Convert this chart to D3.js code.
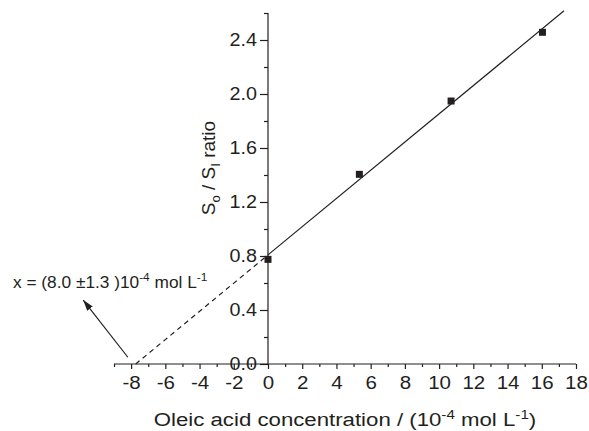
<!DOCTYPE html>
<html><head><meta charset="utf-8">
<script src="https://cdn.jsdelivr.net/npm/d3@7"></script>
<style>
html,body{margin:0;padding:0;background:#fff;}
svg{display:block;font-family:"Liberation Sans",Arial,sans-serif;}
</style></head>
<body>
<svg id="c" width="589" height="431"></svg>
<script>
// Data
const concentration = [0, 5.34, 10.7, 16.04];
const ratio = [0.775, 1.405, 1.948, 2.457];
const xMajorTicks = [-8,-6,-4,-2,0,2,4,6,8,10,12,14,16,18];
const xMinorTicks = [-9,-7,-5,-3,-1,1,3,5,7,9,11,13,15,17];
const yMajorTicks = [0.0,0.4,0.8,1.2,1.6,2.0,2.4];
const yMinorTicks = [0.2,0.6,1.0,1.4,1.8,2.2,2.6];
const fitEndX = 17.3;
const annotationText = ["x = (8.0 \u00B11.3 )10", "-4", " mol L", "-1"];
const arrowTail = [-8.19, 0.05];
const arrowHead = [-10.8, 0.474];
const annotationPos = [-14.9, 0.563];

const svg = d3.select("#c");
const ink = "#231f20";
const x = d3.scaleLinear().domain([-9, 18]).range([114, 576]);
const y = d3.scaleLinear().domain([0, 2.6]).range([364, 13]);

// regression
const n = concentration.length;
const mx = d3.mean(concentration), my = d3.mean(ratio);
let sxy = 0, sxx = 0;
for (let i = 0; i < n; i++) { sxy += (concentration[i]-mx)*(ratio[i]-my); sxx += (concentration[i]-mx)**2; }
const slope = sxy/sxx, intercept = my - slope*mx;
const xInt = -intercept/slope;

const hy = v => String(v).replace("\u2212", "-");

// axes
const xAxisMajor = d3.axisBottom(x).tickValues(xMajorTicks).tickSize(5).tickPadding(7).tickFormat(d => hy(d3.format("d")(d)));
const xAxisMinor = d3.axisBottom(x).tickValues(xMinorTicks).tickSize(3).tickFormat("");
const gx = svg.append("g").attr("transform", `translate(0,${y(0)})`).call(xAxisMajor);
const gx2 = svg.append("g").attr("transform", `translate(0,${y(0)})`).call(xAxisMinor);
gx2.select(".domain").remove();
gx.select(".domain").attr("d", `M${x(-9)},0H${x(18)}`);
gx.selectAll(".tick text").attr("fill", ink).style("font-size", "19px").attr("transform", "scale(1.08,1)");

const yAxisMajor = d3.axisLeft(y).tickValues(yMajorTicks).tickSize(8).tickPadding(3).tickFormat(d3.format(".1f"));
const yAxisMinor = d3.axisLeft(y).tickValues(yMinorTicks).tickSize(4).tickFormat("");
const gy = svg.append("g").attr("transform", `translate(${x(0)},0)`).call(yAxisMajor);
const gy2 = svg.append("g").attr("transform", `translate(${x(0)},0)`).call(yAxisMinor);
gy2.select(".domain").remove();
gy.select(".domain").attr("d", `M0,${y(0)}V${y(2.6)}`);
gy.selectAll(".tick text").attr("fill", ink).style("font-size", "17.5px")
  .attr("x", 0).attr("transform", "translate(-11,0) scale(1.13,1)");

svg.selectAll(".domain, .tick line").attr("stroke", ink).attr("stroke-width", 1.2);
svg.selectAll(".tick text").style("font-family", "Liberation Sans, Arial, sans-serif");

// fit lines
svg.append("line").attr("x1", x(xInt)).attr("y1", y(0)).attr("x2", x(0)).attr("y2", y(intercept))
  .attr("stroke", ink).attr("stroke-width", 1.2).attr("stroke-dasharray", "5,4");
svg.append("line").attr("x1", x(0)).attr("y1", y(intercept)).attr("x2", x(fitEndX)).attr("y2", y(intercept + slope*fitEndX))
  .attr("stroke", ink).attr("stroke-width", 1.2);

// points
svg.selectAll("rect.pt").data(concentration.map((c,i)=>[c, ratio[i]])).enter().append("rect")
  .attr("class","pt").attr("x", d=>x(d[0])-3.5).attr("y", d=>y(d[1])-3.5).attr("width",7).attr("height",7).attr("fill", ink);

// arrow
svg.append("defs").append("marker").attr("id","ah").attr("viewBox","0 0 10 10").attr("refX",10).attr("refY",5)
  .attr("markerWidth",11).attr("markerHeight",11).attr("markerUnits","userSpaceOnUse").attr("orient","auto")
  .append("path").attr("d","M0,1.8L10,5L0,8.2Z").attr("fill", ink);
svg.append("line").attr("x1", x(arrowTail[0])).attr("y1", y(arrowTail[1])).attr("x2", x(arrowHead[0])).attr("y2", y(arrowHead[1]))
  .attr("stroke", ink).attr("stroke-width", 1.2).attr("marker-end","url(#ah)");

// annotation
const at = svg.append("text").attr("transform", `translate(${x(annotationPos[0])},${y(annotationPos[1])}) scale(1.08,1)`)
  .attr("fill", ink).style("font-size","16px");
at.append("tspan").text(annotationText[0]);
at.append("tspan").attr("dy",-7).style("font-size","11px").text(annotationText[1]);
at.append("tspan").attr("dy",7).text(annotationText[2]);
at.append("tspan").attr("dy",-7).style("font-size","11px").text(annotationText[3]);

// x label
const xl = svg.append("text").attr("transform", "translate(345,426) scale(1.17,1)").attr("text-anchor","middle").attr("fill", ink).style("font-size","19px");
xl.append("tspan").text("Oleic acid concentration / (10");
xl.append("tspan").attr("dy",-7).style("font-size","13px").text("-4");
xl.append("tspan").attr("dy",7).text(" mol L");
xl.append("tspan").attr("dy",-7).style("font-size","13px").text("-1");
xl.append("tspan").attr("dy",7).text(")");

// y label
const yl = svg.append("text").attr("transform","translate(215,168) rotate(-90)").attr("text-anchor","middle").attr("fill", ink).style("font-size","19px");
yl.append("tspan").text("S");
yl.append("tspan").attr("dy",5).style("font-size","13px").text("o");
yl.append("tspan").attr("dy",-5).text(" / S");
yl.append("tspan").attr("dy",5).style("font-size","13px").text("I");
yl.append("tspan").attr("dy",-5).text(" ratio");
</script>
</body></html>
